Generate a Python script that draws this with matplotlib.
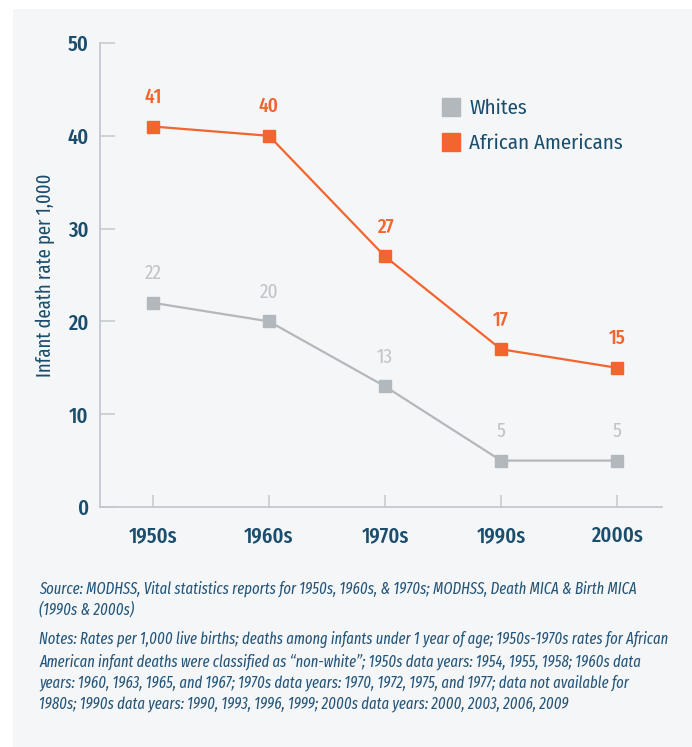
import matplotlib
matplotlib.use("Agg")
import matplotlib.pyplot as plt
from matplotlib.patches import Rectangle
from matplotlib.lines import Line2D

categories = ["1950s", "1960s", "1970s", "1990s", "2000s"]
whites = [22, 20, 13, 5, 5]
african_americans = [41, 40, 27, 17, 15]
y_ticks = [0, 10, 20, 30, 40, 50]

FAM = ["Fira Sans Condensed", "DejaVu Sans"]
FAM_X = ["Fira Sans Extra Condensed", "Fira Sans Condensed", "DejaVu Sans"]
plt.rcParams["font.family"] = FAM

NAVY = "#1b4d6c"
NOTE = "#24557a"
ORANGE = "#f2652e"
GRAY = "#b3b8bd"
GRAY_LBL = "#c1c5c9"
SPINE = "#c3c9ce"
BG = "#f4f6f8"

W, H = 692, 747
fig = plt.figure(figsize=(W / 100, H / 100), dpi=100)
fig.patch.set_facecolor("white")
fig.patches.append(Rectangle((13 / W, 0), 1 - 13 / W, 1 - 9 / H,
                             transform=fig.transFigure, facecolor=BG,
                             edgecolor="none", zorder=-10))

ax = fig.add_axes([100 / W, 1 - 507 / H, 562 / W, 464 / H])
ax.set_facecolor("none")
x = list(range(len(categories)))

ax.plot(x, whites, color=GRAY, lw=1.6, marker="s", ms=9, mec=GRAY, mfc=GRAY,
        clip_on=False, zorder=3)
ax.plot(x, african_americans, color=ORANGE, lw=1.6, marker="s", ms=9,
        mec=ORANGE, mfc=ORANGE, clip_on=False, zorder=3)

for xi, v in zip(x, whites):
    ax.annotate(str(v), (xi, v), xytext=(0, 21), textcoords="offset points",
                ha="center", va="center", fontsize=15, color=GRAY_LBL,
                family=FAM_X)
for xi, v in zip(x, african_americans):
    ax.annotate(str(v), (xi, v), xytext=(0, 21), textcoords="offset points",
                ha="center", va="center", fontsize=15, color=ORANGE,
                fontweight="medium", family=FAM_X)

ax.set_xlim(-53 / 116, 4 + 45 / 116)
ax.set_ylim(0, 50)
ax.set_yticks(y_ticks)
ax.set_xticks(x)
ax.set_xticklabels(categories)
for s in ["top", "right"]:
    ax.spines[s].set_visible(False)
for s in ["left", "bottom"]:
    ax.spines[s].set_color(SPINE)
    ax.spines[s].set_linewidth(1.3)
ax.tick_params(axis="y", direction="in", length=11, width=1.1, color=SPINE,
               labelsize=16, labelcolor=NAVY, pad=8)
ax.tick_params(axis="x", direction="in", length=9, width=1.1, color=SPINE,
               labelsize=16, labelcolor=NAVY, pad=13)
for lbl in ax.get_xticklabels() + ax.get_yticklabels():
    lbl.set_fontweight("medium")
    lbl.set_family(FAM_X)

ax.set_ylabel("Infant death rate per 1,000", fontsize=14.5, color=NAVY,
              family=FAM_X)
ax.yaxis.set_label_coords(-45 / 562, 0.5)

handles = [Line2D([], [], ls="none", marker="s", ms=12.5, color=GRAY),
           Line2D([], [], ls="none", marker="s", ms=12.5, color=ORANGE)]
ax.legend(handles, ["Whites", "African Americans"], loc="upper left",
          bbox_to_anchor=(343 / 562, (507 - 99) / 464), frameon=False,
          fontsize=15, labelcolor=NAVY, handletextpad=0.45, labelspacing=0.72,
          handlelength=0.8, borderaxespad=0, borderpad=0)

notes_kw = dict(fontsize=12, color=NOTE, style="italic", family=FAM_X,
                va="center", ha="left", transform=fig.transFigure)
lines_src = ["Source: MODHSS, Vital statistics reports for 1950s, 1960s, & 1970s; MODHSS, Death MICA & Birth MICA",
             "(1990s & 2000s)"]
lines_notes = ["Notes: Rates per 1,000 live births; deaths among infants under 1 year of age; 1950s-1970s rates for African",
               "American infant deaths were classified as \u201cnon-white\u201d; 1950s data years: 1954, 1955, 1958; 1960s data",
               "years: 1960, 1963, 1965, and 1967; 1970s data years: 1970, 1972, 1975, and 1977; data not available for",
               "1980s; 1990s data years: 1990, 1993, 1996, 1999; 2000s data years: 2000, 2003, 2006, 2009"]
texts = []
for i, t in enumerate(lines_src):
    texts.append(fig.text(39 / W, 1 - (589 + 21 * i) / H, t, **notes_kw))
for i, t in enumerate(lines_notes):
    texts.append(fig.text(39 / W, 1 - (640 + 21.5 * i) / H, t, **notes_kw))

# fit the longest note line to the reference width (39 -> 668 px)
renderer = fig.canvas.get_renderer()
wmax = texts[2].get_window_extent(renderer).width
scale = 629 / wmax
for t in texts:
    t.set_fontsize(t.get_fontsize() * scale)

fig.savefig("out.png", dpi=100, facecolor=fig.get_facecolor())
